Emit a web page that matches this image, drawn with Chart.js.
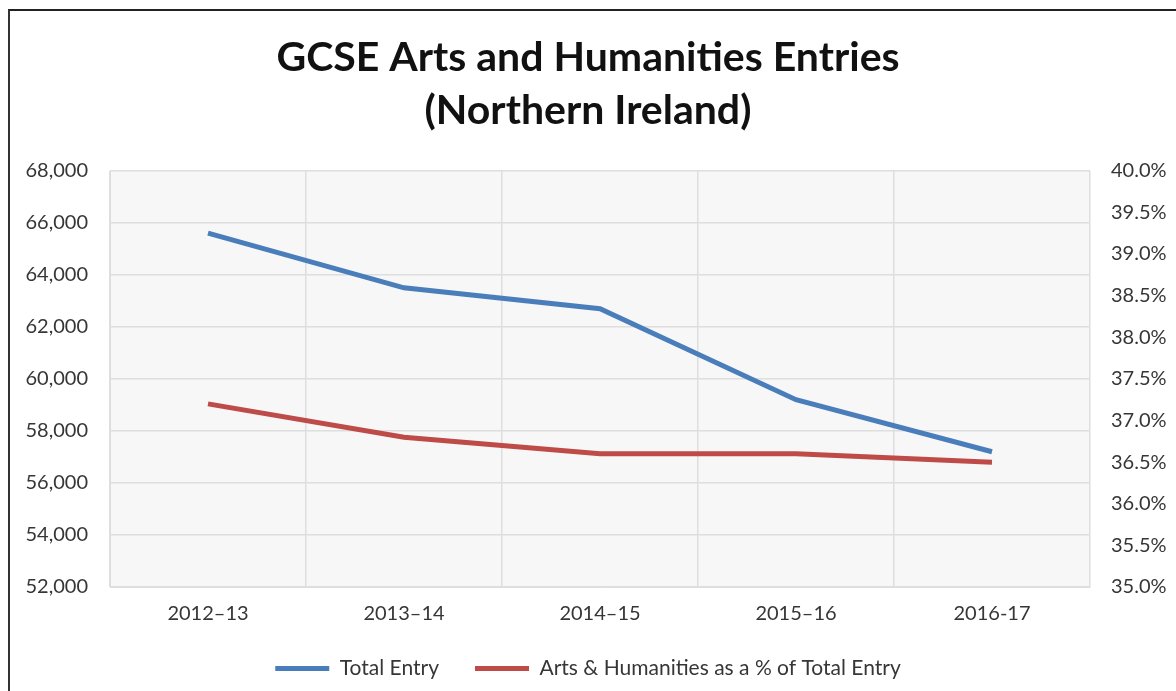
<!DOCTYPE html>
<html>
<head>
<meta charset="utf-8">
<script src="https://cdn.jsdelivr.net/npm/chart.js@4"></script>
<style>
  html, body { margin: 0; padding: 0; background: #fff; overflow: hidden; }
  .frame { position: absolute; left: 8px; top: 9px; width: 1300px; height: 800px;
           border-top: 2px solid #222; border-left: 2px solid #333; }
  .wrap { position: absolute; left: 0; top: 0; width: 1176px; height: 691px; }
</style>
</head>
<body>
<div class="frame"></div>
<div class="wrap"><canvas id="myChart"></canvas></div>
<script>
const ctx = document.getElementById('myChart').getContext('2d');

const years = ['2012–13', '2013–14', '2014–15', '2015–16', '2016-17'];
const totalEntry = [65600, 63500, 62700, 59200, 57200];
const artsPct = [37.2, 36.8, 36.6, 36.6, 36.5]; // persen

const textColor = '#363636';
const gridColor = '#dedede';
const fontName = 'Lato';

// background abu-abu untuk area plot
const plotBg = {
    id: 'plotBg',
    beforeDraw(chart) {
        const a = chart.chartArea;
        chart.ctx.save();
        chart.ctx.fillStyle = '#f7f7f7';
        chart.ctx.fillRect(a.left, a.top, a.right - a.left, a.bottom - a.top);
        chart.ctx.restore();
    }
};

new Chart(ctx, {
    type: 'line',
    data: {
        labels: years,
        datasets: [{
            label: 'Total Entry',
            data: totalEntry,
            borderColor: '#4a7ebb',
            backgroundColor: '#4a7ebb',
            borderWidth: 5,
            pointRadius: 0,
            tension: 0,
            yAxisID: 'y'
        }, {
            label: 'Arts & Humanities as a % of Total Entry',
            data: artsPct,
            borderColor: '#be4b48',
            backgroundColor: '#be4b48',
            borderWidth: 5,
            pointRadius: 0,
            tension: 0,
            yAxisID: 'y1'
        }]
    },
    options: {
        responsive: true,
        maintainAspectRatio: false,
        animation: false,
        layout: { padding: { left: 0, right: 0, top: 0, bottom: 2 } },
        plugins: {
            title: {
                display: true,
                text: ['GCSE Arts and Humanities Entries', '(Northern Ireland)'],
                color: '#111',
                font: { family: fontName, size: 41, weight: 'bold', lineHeight: 1.29 },
                padding: { top: 31, bottom: 34 }
            },
            legend: {
                position: 'bottom',
                labels: {
                    usePointStyle: true,
                    pointStyle: 'line',
                    pointStyleWidth: 54,
                    padding: 36,
                    color: textColor,
                    font: { family: fontName, size: 21 }
                }
            },
            tooltip: { enabled: false }
        },
        scales: {
            x: {
                offset: true,
                grid: { offset: true, color: gridColor, drawTicks: false, lineWidth: 1.5 },
                border: { color: gridColor },
                ticks: { color: textColor, font: { family: fontName, size: 20 }, padding: 15, maxRotation: 0 },
                afterFit: s => { s.height = 35; }
            },
            y: {
                position: 'left',
                min: 52000,
                max: 68000,
                grid: { color: gridColor, drawTicks: false, lineWidth: 1.5 },
                border: { color: gridColor },
                ticks: {
                    stepSize: 2000,
                    color: textColor,
                    font: { family: fontName, size: 20 },
                    padding: 22,
                    callback: v => v.toLocaleString('en-US')
                },
                afterFit: s => { s.width = 110; }
            },
            y1: {
                position: 'right',
                min: 35,
                max: 40,
                grid: { drawOnChartArea: false, drawTicks: false },
                border: { display: false },
                ticks: {
                    stepSize: 0.5,
                    color: textColor,
                    font: { family: fontName, size: 20 },
                    padding: 21,
                    callback: v => v.toFixed(1) + '%'
                },
                afterFit: s => { s.width = 86; }
            }
        }
    },
    plugins: [plotBg]
});
</script>
</body>
</html>
